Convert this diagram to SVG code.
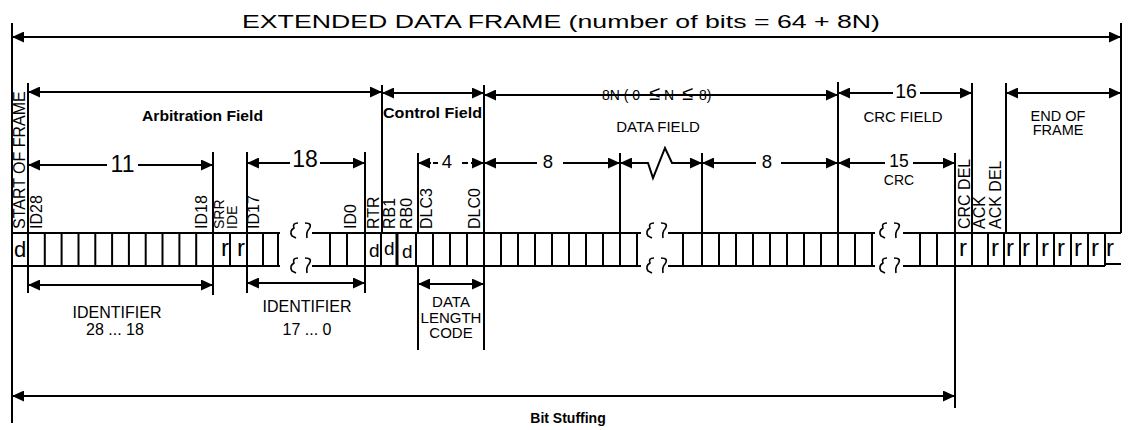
<svg xmlns="http://www.w3.org/2000/svg" width="1130" height="430" viewBox="0 0 1130 430">
<style>
.ln{stroke:#000;stroke-width:2;fill:none}
.ab{stroke:#000;stroke-width:2;fill:none;marker-start:url(#ah);marker-end:url(#ah)}
.as{stroke:#000;stroke-width:2;fill:none;marker-start:url(#ah)}
.ae{stroke:#000;stroke-width:2;fill:none;marker-end:url(#ah)}
.sq{stroke:#000;stroke-width:1.6;fill:none}
text{font-family:"Liberation Sans",Arial,sans-serif;fill:#000}
.c{text-anchor:middle}
.b{font-weight:bold}
.v{font-size:16px}
.m{font-size:15px}
.r{font-size:24px}
.d{font-size:19px}
</style>
<defs>
<marker id="ah" viewBox="0 0 12 11" refX="12" refY="5.5" markerWidth="12" markerHeight="11" markerUnits="userSpaceOnUse" orient="auto-start-reverse"><path d="M0,0 L12,5.5 L0,11 z" fill="#000"/></marker>
<g id="brk" class="sq"><path d="M8,-8 Q2,-8 4,-3 Q-1,0 2,5 L6,7"/><path d="M15,-8 Q23,-8 19,-2 Q16,1 17,7"/></g>
</defs>

<text id="title" x="242" y="28" font-size="18.5" textLength="638" lengthAdjust="spacingAndGlyphs">EXTENDED DATA FRAME (number of bits = 64 + 8N)</text>

<g id="boundaries" class="ln">
<path d="M12,23V423M1121,23V233M28,83V233M28,266V293M213,152V233M213,266V295M247,152V233M247,266V293M365,152V233M365,266V293M382,85V233M418,153V233M418,266V350M484,85V233M484,266V350M620,153V233M702,153V233M838,82V233M955,153V233M955,266V408M972,83V233M1006,83V233"/>
</g>

<g id="connectors">
<path class="ab" d="M12,37H1121"/>
<path class="ab" d="M28,92H382"/>
<path class="ab" d="M382,93H484"/>
<path class="ab" d="M484,95H838"/>
<path class="as" d="M838,93H893"/><path class="ae" d="M920,93H972"/>
<path class="ab" d="M1006,93H1121"/>
<path class="as" d="M28,165H107"/><path class="ae" d="M138,165H213"/>
<path class="as" d="M247,163H290"/><path class="ae" d="M320,163H365"/>
<path class="as" d="M418,163H431"/><path class="ln" d="M433,163H438M462,163H468"/><path class="ae" d="M471,163H484"/>
<path class="as" d="M484,163H537"/><path class="ae" d="M563,163H620"/>
<path class="ab" d="M620,163H648L653,178L665,148L672,163H702"/>
<path class="as" d="M702,163H756"/><path class="ae" d="M781,163H838"/>
<path class="as" d="M838,163H885"/><path class="ae" d="M913,163H955"/>
<path class="ab" d="M28,285H213"/>
<path class="ab" d="M247,283H365"/>
<path class="ab" d="M418,284H484"/>
<path class="ab" d="M12,396H955"/>
</g>

<g id="bitrow">
<path class="ln" d="M12,233H280M312,233H641M668,233H875M903,233H1121M12,266H280M312,266H641M668,266H875M903,266H1105M1105,264H1121"/>
<path class="ln" d="M28,233V266M44.8,233V266M61.6,233V266M78.5,233V266M95.3,233V266M112.1,233V266M128.9,233V266M145.7,233V266M162.5,233V266M179.4,233V266M196.2,233V266M213,233V266M230,233V266M247,233V266M263,233V266M278,233V266M330,233V266M347,233V266M365,233V266M381,233V266M416,233V266M433,233V266M450,233V266M467,233V266M484,233V266M501,233V266M518,233V266M535,233V266M552,233V266M569,233V266M586,233V266M603,233V266M620,233V266M637,233V266M683,233V266M702,233V266M719,233V266M736,233V266M753,233V266M770,233V266M787,233V266M804,233V266M821,233V266M838,233V266M855,233V266M872,233V266M920,233V266M937,233V266M955,233V266M972,233V266M988,233V266M1004,233V266M1020,233V266M1037,233V266M1054,233V266M1071,233V266M1088,233V266M1105,233V266"/>
<path d="M397,233V267" stroke="#000" stroke-width="3"/>
<use href="#brk" x="290" y="231"/><use href="#brk" x="290" y="266"/>
<use href="#brk" x="646" y="231"/><use href="#brk" x="646" y="266"/>
<use href="#brk" x="879" y="231"/><use href="#brk" x="879" y="266"/>
<text x="20" y="257" font-size="22" class="c">d</text>
<text class="r" x="221" y="256">r</text>
<text class="r" x="237" y="256">r</text>
<text class="d" x="369" y="257">d</text>
<text class="d" x="384" y="255">d</text>
<text class="d" x="402" y="258">d</text>
<text class="r" x="959" y="256">r</text>
<text class="r" x="991" y="256">r</text>
<text class="r" x="1006" y="256">r</text>
<text class="r" x="1022" y="256">r</text>
<text class="r" x="1041" y="256">r</text>
<text class="r" x="1057" y="256">r</text>
<text class="r" x="1074" y="256">r</text>
<text class="r" x="1091" y="256">r</text>
<text class="r" x="1106" y="256">r</text>
</g>

<g id="bit-labels">
<text class="v" transform="translate(25,229) rotate(-90)">START OF FRAME</text>
<text class="v" transform="translate(42,229) rotate(-90)">ID28</text>
<text class="v" transform="translate(207,229) rotate(-90)">ID18</text>
<text font-size="14" transform="translate(224,229) rotate(-90)">SRR</text>
<text font-size="14" transform="translate(237,229) rotate(-90)">IDE</text>
<text class="v" transform="translate(259,229) rotate(-90)">ID17</text>
<text class="v" transform="translate(356,229) rotate(-90)">ID0</text>
<text class="v" transform="translate(379,229) rotate(-90)">RTR</text>
<text class="v" transform="translate(395,229) rotate(-90)">RB1</text>
<text class="v" transform="translate(412,229) rotate(-90)">RB0</text>
<text class="v" transform="translate(432,229) rotate(-90)">DLC3</text>
<text class="v" transform="translate(480,229) rotate(-90)">DLC0</text>
<text class="v" transform="translate(970,229) rotate(-90)">CRC DEL</text>
<text class="v" transform="translate(985,229) rotate(-90)">ACK</text>
<text class="v" transform="translate(1001,229) rotate(-90)">ACK DEL</text>
</g>

<g id="field-labels">
<text class="b" x="142" y="121" font-size="14.5" textLength="121" lengthAdjust="spacingAndGlyphs">Arbitration Field</text>
<text class="b" x="383" y="118" font-size="14.5" textLength="99" lengthAdjust="spacingAndGlyphs">Control Field</text>
<text x="602" y="100" font-size="14"><tspan x="602">8N ( 0</tspan><tspan x="649" font-size="20">≤</tspan><tspan x="664">N</tspan><tspan x="682" font-size="20">≤</tspan><tspan x="699">8)</tspan></text>
<text class="m c" x="658" y="132">DATA FIELD</text>
<text class="c" x="906" y="98" font-size="19.5">16</text>
<text class="m c" x="903" y="122">CRC FIELD</text>
<text class="c" x="1058" y="121" font-size="14.5">END OF</text>
<text class="c" x="1058" y="135" font-size="14.5">FRAME</text>
<text class="c" x="122.5" y="172" font-size="23">11</text>
<text class="c" x="305" y="167" font-size="23">18</text>
<text class="c" x="447" y="168" font-size="18.5">4</text>
<text class="c" x="548" y="168" font-size="18.5">8</text>
<text class="c" x="767" y="168" font-size="18.5">8</text>
<text class="c" x="899" y="167" font-size="17.5">15</text>
<text class="c" x="899" y="185" font-size="14">CRC</text>
<text class="v c" x="117" y="318">IDENTIFIER</text>
<text class="v c" x="115" y="335">28 ... 18</text>
<text class="v c" x="307" y="312">IDENTIFIER</text>
<text class="v c" x="307" y="335">17 ... 0</text>
<text class="m c" x="451" y="307">DATA</text>
<text class="m c" x="451" y="323">LENGTH</text>
<text class="m c" x="451" y="338">CODE</text>
<text class="b c" x="568" y="423" font-size="14">Bit Stuffing</text>
</g>
</svg>
